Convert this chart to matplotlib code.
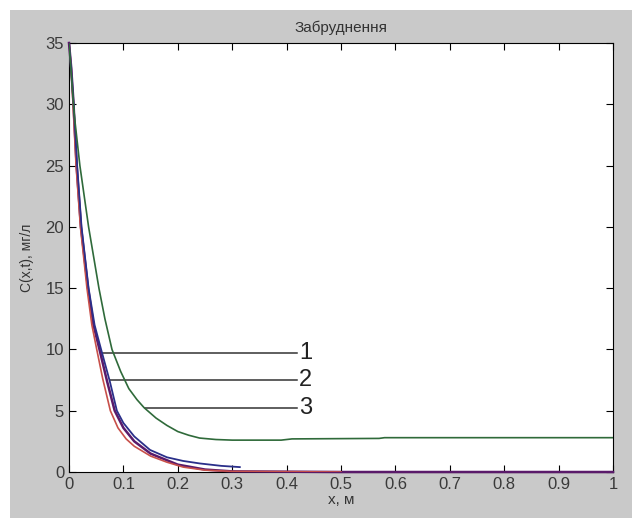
import numpy as np
import matplotlib.pyplot as plt
from matplotlib.patches import Rectangle

plt.rcParams['font.family'] = ['Liberation Sans', 'DejaVu Sans']

# curve 3 (green)
x_green = [0, 0.005, 0.01, 0.02, 0.036, 0.055, 0.066, 0.079, 0.095, 0.11, 0.125, 0.138, 0.16,
           0.18, 0.2, 0.22, 0.24, 0.27, 0.3, 0.39, 0.41, 0.57, 0.58, 1.0]
y_green = [35, 32, 29, 25, 20, 15, 12.5, 10, 8.2, 6.8, 5.9, 5.25, 4.4,
           3.8, 3.3, 3.0, 2.77, 2.65, 2.6, 2.6, 2.7, 2.74, 2.8, 2.8]
# curve 2 (blue)
x_blue = [0, 0.004, 0.008, 0.015, 0.023, 0.036, 0.047, 0.059, 0.075, 0.088, 0.1, 0.12, 0.149,
          0.18, 0.21, 0.24, 0.28, 0.314]
y_blue = [35, 33, 30.3, 25, 20, 15, 12, 10, 7.4, 5.0, 4.0, 2.9, 1.8,
          1.2, 0.9, 0.7, 0.5, 0.4]
# curve 1 (red)
x_red = [0, 0.004, 0.007, 0.013, 0.021, 0.033, 0.042, 0.051, 0.062, 0.076, 0.09, 0.105, 0.12,
         0.15, 0.18, 0.21, 0.25, 0.3, 0.5]
y_red = [35, 33, 30.3, 25, 20, 15, 12, 10, 7.6, 5.0, 3.6, 2.7, 2.1,
         1.3, 0.8, 0.4, 0.15, 0.05, 0.0]
# purple
x_purple = [0, 0.004, 0.008, 0.014, 0.022, 0.035, 0.045, 0.056, 0.07, 0.084, 0.1, 0.12, 0.15,
            0.2, 0.25, 0.3, 0.5, 1.0]
y_purple = [35, 33, 30.3, 25, 20, 15, 12, 10, 7.4, 5.0, 3.6, 2.5, 1.5,
            0.6, 0.2, 0.05, 0.0, 0.0]

labels = ['1', '2', '3']
label_y = [9.7, 7.5, 5.25]
pointer_x = [0.061, 0.076, 0.14]

fig = plt.figure(figsize=(6.32, 5.18), dpi=100, facecolor='white')
fig.patches.append(Rectangle((10 / 632, 0), 1, 1 - 10 / 518, transform=fig.transFigure,
                             facecolor='#c9c9c9', edgecolor='none', zorder=-10))
ax = fig.add_axes([69 / 632, 46 / 518, 544 / 632, 429 / 518])
ax.set_facecolor('white')

ax.plot(x_purple, y_purple, color='#5a1a6a', lw=1.8, zorder=3, clip_on=False)
ax.plot(x_red, y_red, color='#c8504a', lw=1.2, zorder=3)
ax.plot(x_blue, y_blue, color='#2a2f8a', lw=1.3, zorder=3)
ax.plot(x_green, y_green, color='#2f6a3a', lw=1.2, zorder=3)

for lab, yy, xx in zip(labels, label_y, pointer_x):
    ax.plot([xx, 0.42], [yy, yy], color='#333333', lw=1.1)
    ax.text(0.423, yy, lab, fontsize=17, va='center', ha='left', color='#222222')

ax.set_xlim(0, 1)
ax.set_ylim(0, 35)
ax.set_xticks(np.arange(0, 1.01, 0.1))
ax.set_xticklabels(['0', '0.1', '0.2', '0.3', '0.4', '0.5', '0.6', '0.7', '0.8', '0.9', '1'])
ax.set_yticks(np.arange(0, 36, 5))
ax.tick_params(direction='in', top=True, right=True, length=5, labelsize=12,
               colors='black', labelcolor='#3a3a3a')
for s in ax.spines.values():
    s.set_color('black')

ax.set_title('Забруднення', fontsize=11, color='#333333', pad=8)
ax.set_xlabel('x, м', fontsize=11, color='#333333', labelpad=1)
ax.set_ylabel('C(x,t), мг/л', fontsize=10, color='#333333', labelpad=8)

fig.savefig('out.png', dpi=100, facecolor=fig.get_facecolor())
